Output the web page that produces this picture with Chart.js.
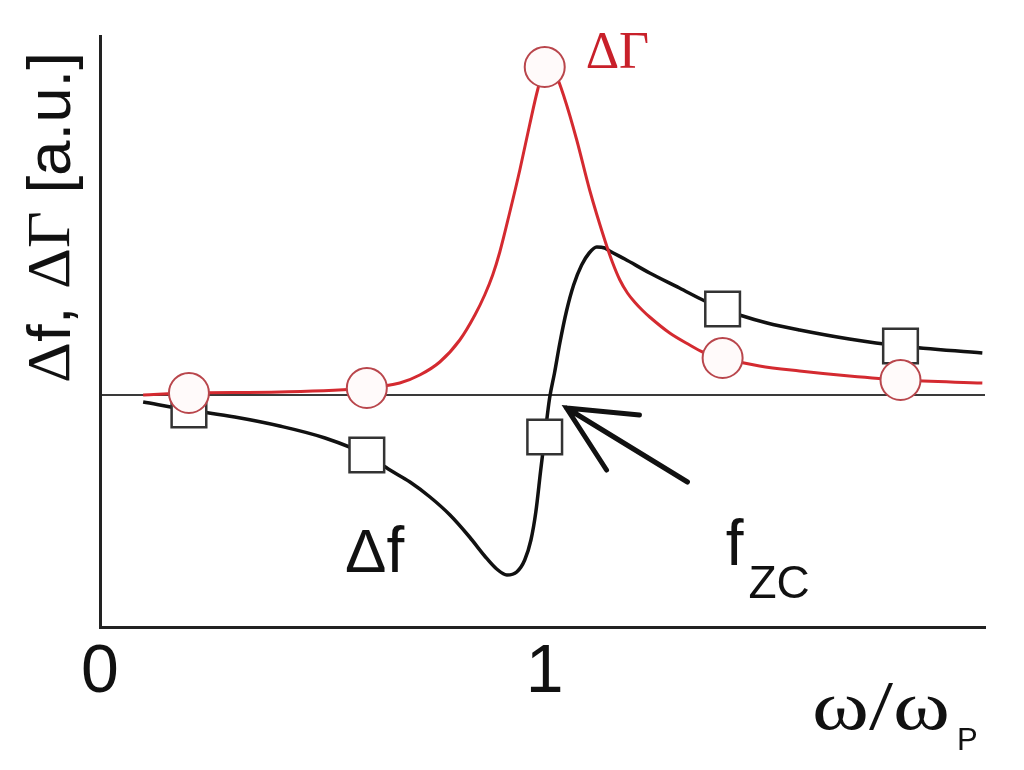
<!DOCTYPE html>
<html><head><meta charset="utf-8">
<script src="https://cdn.jsdelivr.net/npm/chart.js@4/dist/chart.umd.min.js"></script>
<style>html,body{margin:0;padding:0;background:#fff;}#wrap{width:1024px;height:770px;}</style>
</head><body><div id="wrap"><canvas id="c" width="1024" height="770"></canvas></div>
<script>
// ω/ωP values and curve readings (a.u.)
const omegaDeltaF = [0.097,0.2,0.303,0.404,0.506,0.6,0.652,0.697,0.742,0.787,0.831,0.865,0.892,0.915,0.937,0.955,0.969,0.980,0.991,1.0,1.011,1.022,1.034,1.049,1.065,1.083,1.100,1.117,1.135,1.146,1.180,1.236,1.303,1.360,1.4,1.438,1.5,1.573,1.685,1.8,1.984];
const deltaF      = [-0.07,-0.15,-0.22,-0.31,-0.43,-0.60,-0.75,-0.87,-1.02,-1.20,-1.42,-1.61,-1.74,-1.80,-1.77,-1.65,-1.45,-1.17,-0.75,-0.42,-0.03,0.22,0.52,0.84,1.10,1.30,1.42,1.48,1.47,1.44,1.36,1.22,1.07,0.94,0.86,0.80,0.72,0.65,0.56,0.49,0.42];
const omegaDeltaGamma = [0.097,0.2,0.404,0.6,0.674,0.719,0.764,0.809,0.843,0.865,0.883,0.899,0.921,0.944,0.966,0.984,1.0,1.025,1.045,1.072,1.101,1.135,1.152,1.169,1.186,1.202,1.219,1.236,1.281,1.326,1.355,1.4,1.483,1.573,1.685,1.8,1.984];
const deltaGamma      = [0.00,0.02,0.03,0.07,0.12,0.20,0.33,0.55,0.80,1.00,1.20,1.43,1.82,2.25,2.70,3.05,3.28,3.20,2.96,2.55,2.05,1.55,1.33,1.15,1.02,0.93,0.85,0.78,0.62,0.50,0.43,0.37,0.29,0.24,0.19,0.15,0.12];
const markerOmega = [0.2, 0.6, 1.0, 1.4, 1.8];
const deltaFMarkers = [-0.15, -0.60, -0.42, 0.86, 0.49];
const deltaGammaMarkers = [0.02, 0.07, 3.28, 0.37, 0.15];
const xTickValues = [0, 1];
const xTickLabels = ['0', '1'];

const SANS = "'Liberation Sans', Arial, sans-serif";
const SERIF = "'Liberation Serif', 'Times New Roman', serif";

const pts = (xs, ys) => xs.map((x, i) => ({x: x, y: ys[i]}));

// annotation anchors in data units
const arrowTip = {x: 1.049, y: -0.13};
const arrowTail = {x: 1.321, y: -0.87};
const arrowWing1 = {x: 1.213, y: -0.20};
const arrowWing2 = {x: 1.139, y: -0.75};
const gammaLabelPos = {x: 1.092, y: 3.27};
const dfLabelPos = {x: 0.551, y: -1.77};
const fzcLabelPos = {x: 1.407, y: -1.70};
const zcSubPos = {x: 1.458, y: -2.03};

function drawParts(ctx, parts, x, y) {
  let cx = x;
  for (const p of parts) { ctx.font = p.font; ctx.fillText(p.t, cx, y); cx += ctx.measureText(p.t).width; }
  return cx - x;
}
function measureParts(ctx, parts) {
  let w = 0;
  for (const p of parts) { ctx.font = p.font; w += ctx.measureText(p.t).width; }
  return w;
}

const annotations = {
  id: 'annotations',
  afterDatasetsDraw(chart) {
    const ctx = chart.ctx, xs = chart.scales.x, ys = chart.scales.y;
    const P = (p) => [xs.getPixelForValue(p.x), ys.getPixelForValue(p.y)];
    ctx.save();
    // arrow
    ctx.strokeStyle = '#111'; ctx.lineWidth = 5; ctx.lineCap = 'round';
    const t = P(arrowTip), a = P(arrowTail), w1 = P(arrowWing1), w2 = P(arrowWing2);
    ctx.beginPath();
    ctx.moveTo(a[0], a[1]); ctx.lineTo(t[0], t[1]);
    ctx.moveTo(w1[0], w1[1]); ctx.lineTo(t[0], t[1]); ctx.lineTo(w2[0], w2[1]);
    ctx.stroke();
    // labels
    ctx.textBaseline = 'alphabetic'; ctx.textAlign = 'left';
    ctx.fillStyle = '#c8202a';
    ctx.font = '52px ' + SERIF;
    let q = P(gammaLabelPos); ctx.fillText('ΔΓ', q[0], q[1]);
    ctx.fillStyle = '#111';
    q = P(dfLabelPos); drawParts(ctx, [{t:'Δ', font:'62px ' + SANS}, {t:'f', font:'64px ' + SANS}], q[0], q[1]);
    ctx.font = '64px ' + SANS;
    q = P(fzcLabelPos); ctx.fillText('f', q[0], q[1]);
    ctx.font = '46px ' + SANS;
    q = P(zcSubPos); ctx.fillText('ZC', q[0], q[1]);
    ctx.restore();
  },
  afterDraw(chart) {
    const ctx = chart.ctx, area = chart.chartArea;
    ctx.save();
    ctx.fillStyle = '#111';
    // y axis title, rotated
    const parts = [
      {t:'Δ', font:'62px ' + SERIF}, {t:'f, ', font:'62px ' + SANS},
      {t:'ΔΓ', font:'62px ' + SERIF}, {t:' [a.u.]', font:'62px ' + SANS}
    ];
    const w = measureParts(ctx, parts);
    ctx.translate(area.left - 47, area.top + 347);
    ctx.rotate(-Math.PI / 2);
    ctx.scale(331 / w, 1);
    ctx.textBaseline = 'middle'; ctx.textAlign = 'left';
    drawParts(ctx, parts, 0, 0);
    ctx.restore();
    // x axis title ω/ωP
    ctx.save();
    ctx.fillStyle = '#111'; ctx.textBaseline = 'alphabetic'; ctx.textAlign = 'left';
    ctx.font = '70px ' + SERIF;
    const ww = ctx.measureText('ω/ω').width;
    ctx.translate(812, 729);
    ctx.scale(138 / ww, 1);
    ctx.fillText('ω/ω', 0, 0);
    ctx.restore();
    ctx.save();
    ctx.fillStyle = '#111'; ctx.font = '31px ' + SANS;
    ctx.fillText('P', 957, 750);
    ctx.restore();
  }
};

new Chart(document.getElementById('c'), {
  type: 'line',
  data: {
    datasets: [
      { label: 'ΔΓ markers', data: pts(markerOmega, deltaGammaMarkers), showLine: false,
        pointStyle: 'circle', pointRadius: 20, pointBorderWidth: 2, pointBorderColor: '#b9464c',
        pointBackgroundColor: '#fffafa', clip: false },
      { label: 'Δf markers', data: pts(markerOmega, deltaFMarkers), showLine: false,
        pointStyle: 'rect', pointRadius: 24.5, pointBorderWidth: 2.5, pointBorderColor: '#333',
        pointBackgroundColor: '#fff', clip: false },
      { label: 'ΔΓ', data: pts(omegaDeltaGamma, deltaGamma), borderColor: '#d42a30', borderWidth: 3,
        pointRadius: 0, cubicInterpolationMode: 'monotone', fill: false },
      { label: 'Δf', data: pts(omegaDeltaF, deltaF), borderColor: '#111', borderWidth: 3.5,
        pointRadius: 0, cubicInterpolationMode: 'monotone', fill: false }
    ]
  },
  options: {
    responsive: false, animation: false, events: [],
    layout: { padding: { left: 100, right: 39, top: 36, bottom: 51 } },
    plugins: { legend: { display: false }, tooltip: { enabled: false } },
    scales: {
      x: { type: 'linear', min: 0, max: 1.99,
        afterBuildTicks: (s) => { s.ticks = xTickValues.map(v => ({ value: v })); },
        ticks: { font: { family: SANS, size: 68, lineHeight: 1 }, color: '#111', padding: 12,
          maxRotation: 0, autoSkip: false,
          callback: (v) => { const i = xTickValues.indexOf(v); return i >= 0 ? xTickLabels[i] : ''; } },
        grid: { display: true, color: 'transparent', drawTicks: false },
        border: { display: true, color: '#222', width: 3 } },
      y: { type: 'linear', min: -2.32, max: 3.59,
        afterBuildTicks: (s) => { s.ticks = [{ value: 0 }]; },
        ticks: { display: false },
        grid: { display: true, color: '#3a3a3a', lineWidth: 2, drawTicks: false },
        border: { display: true, color: '#222', width: 3 } }
    }
  },
  plugins: [annotations]
});
</script></body></html>
